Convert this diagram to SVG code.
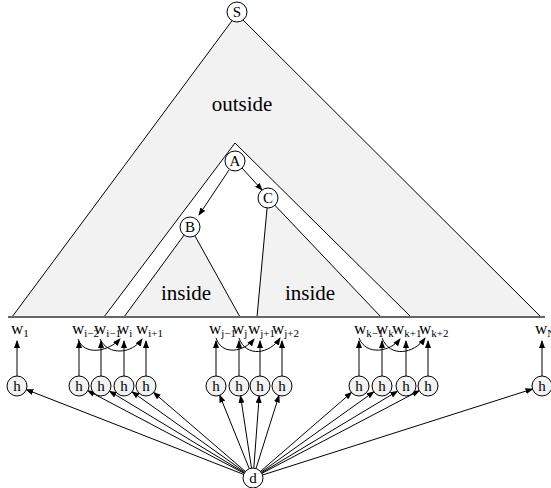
<svg xmlns="http://www.w3.org/2000/svg" width="551" height="488" viewBox="0 0 551 488">
  <style>
    .region { fill: #f2f2f2; stroke: #000; stroke-width: 1; }
    .hole { fill: #fff; stroke: #000; stroke-width: 1; }
    .node { fill: #fff; stroke: #000; stroke-width: 1; }
    .hnode { fill: #f2f2f2; stroke: #000; stroke-width: 1; }
    .lbl { font-family: "Liberation Serif", "Times New Roman", serif; font-size: 15px; text-anchor: middle; fill: #000; }
    .word { font-family: "Liberation Serif", "Times New Roman", serif; font-size: 17px; fill: #000; }
    .sub { font-size: 11px; }
    .big { font-family: "Liberation Serif", "Times New Roman", serif; font-size: 21px; text-anchor: middle; fill: #000; }
    .edge { fill: none; stroke: #000; stroke-width: 1; }
  </style>
  <defs>
    <marker id="arrow" markerUnits="userSpaceOnUse" markerWidth="8" markerHeight="6" refX="7" refY="3" orient="auto">
      <path d="M0,0 L8,3 L0,6 z" fill="#000"/>
    </marker>
  </defs>

  <!-- tree regions: outside, the A subtree, and the B and C subtrees -->
  <g id="regions">
    <polygon class="region" points="237,14 12,317 541,317"/>
    <polygon class="hole" points="235,143 104,317 411,317"/>
    <polygon class="region" points="190,227 124,317 240,317"/>
    <polygon class="region" points="268,198 257,317 381,317"/>
    <line x1="8" y1="317" x2="545" y2="317" stroke="#666" stroke-width="2"/>
    <text class="big" x="242" y="111">outside</text>
    <text class="big" x="186" y="300">inside</text>
    <text class="big" x="310" y="300">inside</text>
  </g>

  <!-- connectors -->
  <g id="connectors" class="edge" marker-end="url(#arrow)">
    <line x1="229" y1="170" x2="199" y2="215"/>
    <line x1="242" y1="168" x2="262" y2="190"/>
    <!-- h to word -->
    <line x1="17" y1="376" x2="17" y2="341"/>
    <line x1="79" y1="376" x2="79" y2="341"/>
    <line x1="101" y1="376" x2="101" y2="341"/>
    <line x1="124" y1="376" x2="124" y2="341"/>
    <line x1="146" y1="376" x2="146" y2="341"/>
    <line x1="216" y1="376" x2="216" y2="341"/>
    <line x1="239" y1="376" x2="239" y2="341"/>
    <line x1="260" y1="376" x2="260" y2="341"/>
    <line x1="282" y1="376" x2="282" y2="341"/>
    <line x1="359" y1="376" x2="359" y2="341"/>
    <line x1="382" y1="376" x2="382" y2="341"/>
    <line x1="406" y1="376" x2="406" y2="341"/>
    <line x1="428" y1="376" x2="428" y2="341"/>
    <line x1="542" y1="376" x2="542" y2="341"/>
    <!-- word arcs -->
    <path d="M78,339 C84,356 108,352 120,339"/>
    <path d="M100,339 C108,356 132,354 142,339"/>
    <path d="M216,338 C222,356 244,352 254,339"/>
    <path d="M239,338 C246,358 270,354 280,338"/>
    <path d="M359,338 C366,356 390,352 400,339"/>
    <path d="M382,338 C390,358 414,354 425,338"/>
    <!-- d to h -->
    <line x1="243.7" y1="474.4" x2="26.3" y2="389.6"/>
    <line x1="244.2" y1="473.3" x2="87.8" y2="390.7"/>
    <line x1="244.4" y1="472.8" x2="109.6" y2="391.2"/>
    <line x1="244.9" y1="472.2" x2="132.1" y2="391.8"/>
    <line x1="245.4" y1="471.5" x2="153.6" y2="392.5"/>
    <line x1="249.3" y1="468.7" x2="219.7" y2="395.3"/>
    <line x1="251.5" y1="468.1" x2="240.5" y2="395.9"/>
    <line x1="253.8" y1="468.0" x2="259.2" y2="396.0"/>
    <line x1="256.0" y1="468.5" x2="279.0" y2="395.5"/>
    <line x1="260.5" y1="471.4" x2="351.5" y2="392.5"/>
    <line x1="261.1" y1="472.2" x2="373.9" y2="391.8"/>
    <line x1="261.6" y1="472.8" x2="397.4" y2="391.2"/>
    <line x1="261.9" y1="473.3" x2="419.2" y2="390.7"/>
    <line x1="262.5" y1="475.0" x2="532.5" y2="389.0"/>
  </g>

  <!-- tree nodes -->
  <g id="node-S"><circle class="node" cx="237" cy="12" r="10"/><text class="lbl" x="237" y="17">S</text></g>
  <g id="node-A"><circle class="node" cx="235" cy="161" r="10"/><text class="lbl" x="235" y="166">A</text></g>
  <g id="node-B"><circle class="node" cx="190" cy="227" r="10"/><text class="lbl" x="190" y="232">B</text></g>
  <g id="node-C"><circle class="node" cx="268" cy="198" r="10"/><text class="lbl" x="268" y="203">C</text></g>
  <g id="node-d"><circle class="node" cx="253" cy="478" r="10"/><text class="lbl" x="253" y="483">d</text></g>

  <!-- words -->
  <g id="words">
    <text class="word" x="11" y="334">w<tspan class="sub" dy="3">1</tspan></text>
    <text class="word" x="72" y="334">w<tspan class="sub" dy="3">i−2</tspan></text>
    <text class="word" x="94" y="334">w<tspan class="sub" dy="3">i−1</tspan></text>
    <text class="word" x="117" y="334">w<tspan class="sub" dy="3">i</tspan></text>
    <text class="word" x="136" y="334">w<tspan class="sub" dy="3">i+1</tspan></text>
    <text class="word" x="209" y="334">w<tspan class="sub" dy="3">j−1</tspan></text>
    <text class="word" x="232" y="334">w<tspan class="sub" dy="3">j</tspan></text>
    <text class="word" x="248" y="334">w<tspan class="sub" dy="3">j+1</tspan></text>
    <text class="word" x="272" y="334">w<tspan class="sub" dy="3">j+2</tspan></text>
    <text class="word" x="354" y="334">w<tspan class="sub" dy="3">k−1</tspan></text>
    <text class="word" x="376" y="334">w<tspan class="sub" dy="3">k</tspan></text>
    <text class="word" x="392" y="334">w<tspan class="sub" dy="3">k+1</tspan></text>
    <text class="word" x="419" y="334">w<tspan class="sub" dy="3">k+2</tspan></text>
    <text class="word" x="535" y="334">w<tspan class="sub" dy="3">N</tspan></text>
  </g>

  <!-- hidden-state nodes -->
  <g id="h-1"><circle class="hnode" cx="17" cy="386" r="10"/><text class="lbl" x="17" y="391">h</text></g>
  <g id="h-2"><circle class="hnode" cx="79" cy="386" r="10"/><text class="lbl" x="79" y="391">h</text></g>
  <g id="h-3"><circle class="hnode" cx="101" cy="386" r="10"/><text class="lbl" x="101" y="391">h</text></g>
  <g id="h-4"><circle class="hnode" cx="124" cy="386" r="10"/><text class="lbl" x="124" y="391">h</text></g>
  <g id="h-5"><circle class="hnode" cx="146" cy="386" r="10"/><text class="lbl" x="146" y="391">h</text></g>
  <g id="h-6"><circle class="hnode" cx="216" cy="386" r="10"/><text class="lbl" x="216" y="391">h</text></g>
  <g id="h-7"><circle class="hnode" cx="239" cy="386" r="10"/><text class="lbl" x="239" y="391">h</text></g>
  <g id="h-8"><circle class="hnode" cx="260" cy="386" r="10"/><text class="lbl" x="260" y="391">h</text></g>
  <g id="h-9"><circle class="hnode" cx="282" cy="386" r="10"/><text class="lbl" x="282" y="391">h</text></g>
  <g id="h-10"><circle class="hnode" cx="359" cy="386" r="10"/><text class="lbl" x="359" y="391">h</text></g>
  <g id="h-11"><circle class="hnode" cx="382" cy="386" r="10"/><text class="lbl" x="382" y="391">h</text></g>
  <g id="h-12"><circle class="hnode" cx="406" cy="386" r="10"/><text class="lbl" x="406" y="391">h</text></g>
  <g id="h-13"><circle class="hnode" cx="428" cy="386" r="10"/><text class="lbl" x="428" y="391">h</text></g>
  <g id="h-14"><circle class="hnode" cx="542" cy="386" r="10"/><text class="lbl" x="542" y="391">h</text></g>
</svg>
